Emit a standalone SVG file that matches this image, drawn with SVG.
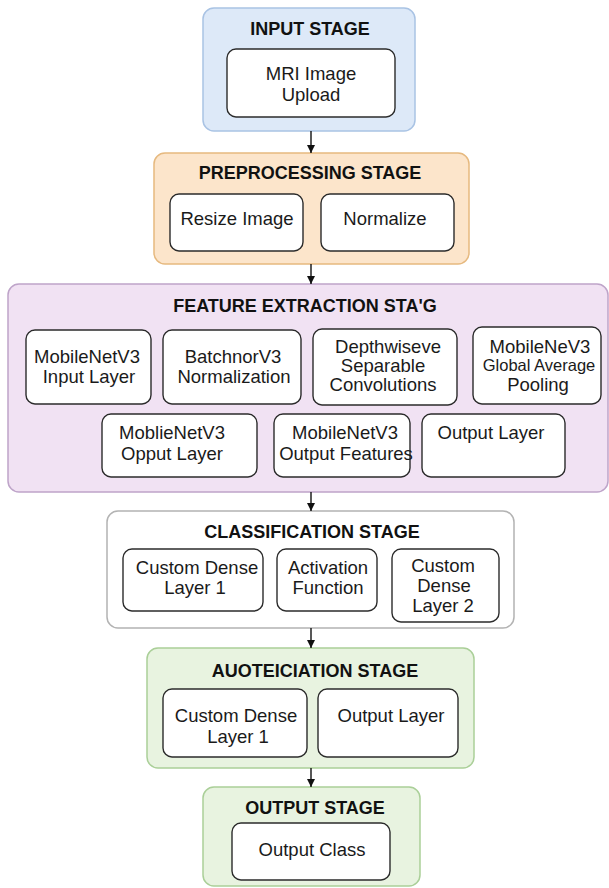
<svg xmlns="http://www.w3.org/2000/svg" width="609" height="888" viewBox="0 0 609 888">
<defs>
<marker id="arr" viewBox="0 0 10 10" refX="10" refY="5" markerWidth="8" markerHeight="8" markerUnits="userSpaceOnUse" orient="auto">
<path d="M0,0 L10,5 L0,10 Z" fill="#111"/>
</marker>
<style>
.t{font-family:"Liberation Sans",Arial,sans-serif;font-size:18px;font-weight:bold;fill:#111;text-anchor:middle}
.b{font-family:"Liberation Sans",Arial,sans-serif;font-size:18.5px;fill:#1a1a1a;text-anchor:middle}
.s{font-size:16.5px}
.n{fill:#fff;stroke:#2b2b2b;stroke-width:1.4}
.blue{fill:#dde9f8;stroke:#a9c3e4;stroke-width:1.5}
.orange{fill:#fce5cb;stroke:#e6b97f;stroke-width:1.5}
.purple{fill:#f1e2f3;stroke:#bea4c9;stroke-width:1.5}
.white{fill:#fff;stroke:#b3b3b3;stroke-width:1.5}
.green{fill:#e8f3e0;stroke:#aacf98;stroke-width:1.5}
.c{stroke:#111;stroke-width:1.4;fill:none}
</style>
</defs>

<g id="input-stage">
<rect class="blue" x="203" y="8" width="212" height="123" rx="11"/>
<text class="t" x="310" y="35">INPUT STAGE</text>
<g id="mri-upload">
<rect class="n" x="227" y="49" width="168" height="68" rx="9"/>
<text class="b" x="311" y="80">MRI Image</text>
<text class="b" x="311" y="101">Upload</text>
</g>
</g>

<g id="preprocessing-stage">
<rect class="orange" x="154" y="153" width="315" height="111" rx="11"/>
<text class="t" x="310" y="179">PREPROCESSING STAGE</text>
<g id="resize-image">
<rect class="n" x="170" y="194" width="133" height="57" rx="9"/>
<text class="b" x="237" y="225">Resize Image</text>
</g>
<g id="normalize">
<rect class="n" x="321" y="194" width="133" height="57" rx="9"/>
<text class="b" x="385" y="225">Normalize</text>
</g>
</g>

<g id="feature-extraction-stage">
<rect class="purple" x="8" y="284" width="600" height="208" rx="11"/>
<text class="t" x="305" y="312">FEATURE EXTRACTION STA'G</text>
<g id="fe-input-layer">
<rect class="n" x="26" y="330" width="125" height="74" rx="9"/>
<text class="b" x="87" y="363">MobileNetV3</text>
<text class="b" x="89" y="383">Input Layer</text>
</g>
<g id="fe-batchnorm">
<rect class="n" x="163" y="330" width="138" height="74" rx="9"/>
<text class="b" x="233" y="363">BatchnorV3</text>
<text class="b" x="234" y="383">Normalization</text>
</g>
<g id="fe-depthwise">
<rect class="n" x="313" y="329" width="144" height="76" rx="9"/>
<text class="b" x="388" y="353">Depthwiseve</text>
<text class="b" x="383" y="372">Separable</text>
<text class="b" x="383" y="391">Convolutions</text>
</g>
<g id="fe-gap">
<rect class="n" x="473" y="327" width="128" height="77" rx="9"/>
<text class="b" x="540" y="353">MobileNeV3</text>
<text class="b s" x="539" y="371">Global Average</text>
<text class="b" x="538" y="391">Pooling</text>
</g>
<g id="fe-opput-layer">
<rect class="n" x="102" y="414" width="155" height="63" rx="9"/>
<text class="b" x="172" y="439">MoblieNetV3</text>
<text class="b" x="172" y="460">Opput Layer</text>
</g>
<g id="fe-output-features">
<rect class="n" x="274" y="414" width="136" height="63" rx="9"/>
<text class="b" x="345" y="439">MobileNetV3</text>
<text class="b" x="346" y="460">Output Features</text>
</g>
<g id="fe-output-layer">
<rect class="n" x="422" y="414" width="143" height="63" rx="9"/>
<text class="b" x="491" y="439">Output Layer</text>
</g>
</g>

<g id="classification-stage">
<rect class="white" x="107" y="511" width="407" height="117" rx="11"/>
<text class="t" x="312" y="538">CLASSIFICATION STAGE</text>
<g id="cl-dense1">
<rect class="n" x="123" y="549" width="140" height="62" rx="9"/>
<text class="b" x="197" y="574">Custom Dense</text>
<text class="b" x="195" y="594">Layer 1</text>
</g>
<g id="cl-activation">
<rect class="n" x="277" y="549" width="100" height="62" rx="9"/>
<text class="b" x="328" y="574">Activation</text>
<text class="b" x="328" y="594">Function</text>
</g>
<g id="cl-dense2">
<rect class="n" x="392" y="549" width="107" height="73" rx="9"/>
<text class="b" x="443" y="572">Custom</text>
<text class="b" x="444" y="592">Dense</text>
<text class="b" x="443" y="612">Layer 2</text>
</g>
</g>

<g id="auoteiciation-stage">
<rect class="green" x="147" y="648" width="327" height="120" rx="11"/>
<text class="t" x="315" y="677">AUOTEICIATION STAGE</text>
<g id="au-dense1">
<rect class="n" x="163" y="689" width="144" height="68" rx="9"/>
<text class="b" x="236" y="722">Custom Dense</text>
<text class="b" x="238" y="743">Layer 1</text>
</g>
<g id="au-output-layer">
<rect class="n" x="318" y="689" width="140" height="68" rx="9"/>
<text class="b" x="391" y="722">Output Layer</text>
</g>
</g>

<g id="output-stage">
<rect class="green" x="203" y="787" width="217" height="99" rx="11"/>
<text class="t" x="315" y="814">OUTPUT STAGE</text>
<g id="output-class">
<rect class="n" x="232" y="823" width="158" height="57" rx="9"/>
<text class="b" x="312" y="856">Output Class</text>
</g>
</g>

<g id="connectors">
<line class="c" x1="311" y1="131" x2="311" y2="153" marker-end="url(#arr)"/>
<line class="c" x1="311" y1="264" x2="311" y2="284" marker-end="url(#arr)"/>
<line class="c" x1="311" y1="492" x2="311" y2="511" marker-end="url(#arr)"/>
<line class="c" x1="311" y1="628" x2="311" y2="648" marker-end="url(#arr)"/>
<line class="c" x1="311" y1="768" x2="311" y2="787" marker-end="url(#arr)"/>
</g>
</svg>
